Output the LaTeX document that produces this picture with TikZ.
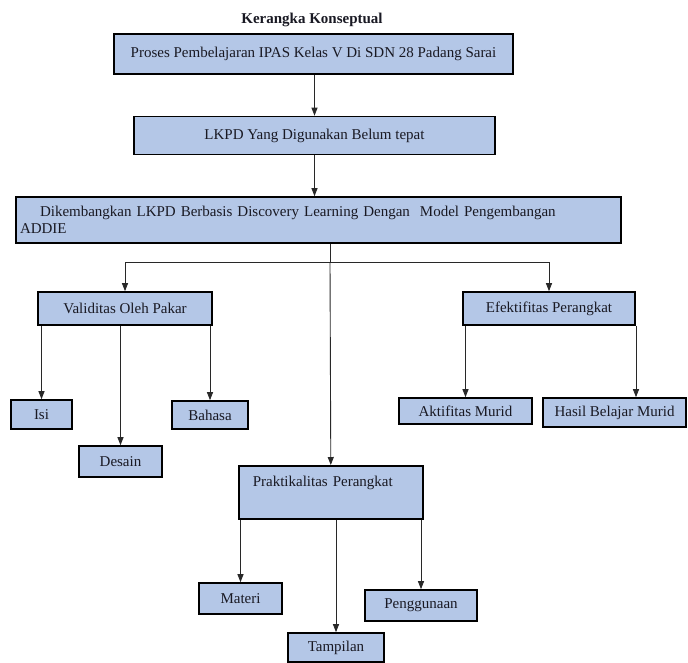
\documentclass[tikz,border=0pt]{standalone}
\usepackage{fontspec}
\setmainfont{Liberation Serif}
\usetikzlibrary{arrows.meta}
\definecolor{boxfill}{RGB}{180,199,231}
\definecolor{txt}{RGB}{25,25,35}
\definecolor{conn}{RGB}{40,40,40}
\tikzset{
  box/.style={draw=black, line width=1.6pt, fill=boxfill, text=txt, inner sep=0pt,
    font=\fontsize{15}{17}\selectfont},
  arr/.style={draw=conn, line width=0.9pt, -{Triangle[length=8pt,width=6pt]}},
  ln/.style={draw=conn, line width=0.9pt},
}
\begin{document}
\begin{tikzpicture}[x=1pt,y=-1pt]
\useasboundingbox (0,0) rectangle (688,662);
\node[font=\fontsize{15}{17}\selectfont\bfseries, text=txt] (title) at (312,20) {Kerangka Konseptual};
\node[box, minimum width=399, minimum height=40] (p1) at (313.5,54) {Proses Pembelajaran IPAS Kelas V Di SDN 28 Padang Sarai};
\node[box, minimum width=361, minimum height=38] (p2) at (314.5,135.5) {LKPD Yang Digunakan Belum tepat};
\node[box, minimum width=605, minimum height=46, align=left, text width=597] (p3) at (318.5,220)
  {\hspace*{20pt}Dikembangkan LKPD Berbasis Discovery Learning Dengan\ \ Model Pengembangan\\ADDIE};
\node[box, minimum width=174, minimum height=33] (val) at (125,308.5) {Validitas Oleh Pakar};
\node[box, minimum width=172, minimum height=33] (efk) at (549,308.5) {Efektifitas Perangkat};
\node[box, minimum width=184, anchor=north west, text width=156, inner xsep=14pt, inner ysep=6pt,
  text height=15pt, text depth=26pt, align=left] (prak) at (238,465) {Praktikalitas Perangkat};
\node[box, minimum width=61, minimum height=29] (isi) at (41.5,414.5) {Isi};
\node[box, minimum width=83, minimum height=31] (des) at (120.5,461.5) {Desain};
\node[box, minimum width=76, minimum height=28] (bah) at (210,415) {Bahasa};
\node[box, minimum width=133, minimum height=26] (akt) at (465.5,411) {Aktifitas Murid};
\node[box, minimum width=143, minimum height=29] (has) at (614.5,412.5) {Hasil Belajar Murid};
\node[box, minimum width=83, minimum height=31] (mat) at (240.5,598.5) {Materi};
\node[box, minimum width=112, minimum height=31] (pen) at (421,605.5) {Penggunaan};
\node[box, minimum width=96, minimum height=29] (tam) at (336,647.5) {Tampilan};
\draw[arr] (p2.north |- p1.south) -- (p2.north);
\draw[arr] (p2.south) -- (p2.south |- p3.north);
\coordinate (j) at (330,262);
\draw[ln] (j |- p3.south) -- (j);
\draw[arr] (j) -- (prak.north);
\draw[arr] (j) -| (val.north);
\draw[arr] (j) -| (efk.north);
\draw[arr] (isi.north |- val.south) -- (isi.north);
\draw[arr] (des.north |- val.south) -- (des.north);
\draw[arr] (bah.north |- val.south) -- (bah.north);
\draw[arr] (akt.north |- efk.south) -- (akt.north);
\draw[arr] ([xshift=21.5pt]has.north |- efk.south) -- ([xshift=21.5pt]has.north);
\draw[arr] (mat.north |- prak.south) -- (mat.north);
\draw[arr] (tam.north |- prak.south) -- (tam.north);
\draw[arr] (pen.north |- prak.south) -- (pen.north);
\end{tikzpicture}
\end{document}
